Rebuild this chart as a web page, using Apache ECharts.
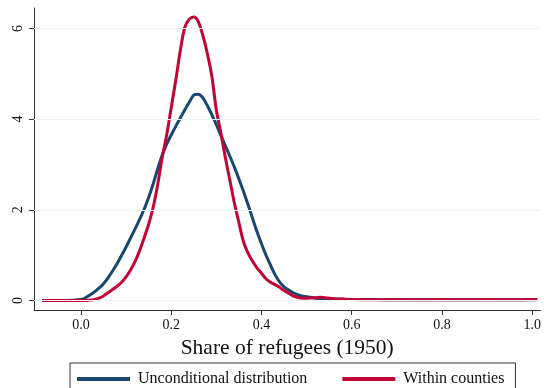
<!DOCTYPE html>
<html>
<head>
<meta charset="utf-8">
<script src="https://cdn.jsdelivr.net/npm/echarts@6/dist/echarts.min.js"></script>
<style>
html,body{margin:0;padding:0;background:#fff;}
#chart{width:544px;height:388px;}
</style>
</head>
<body>
<div id="chart"></div>
<script>
// Share of refugees (x) sample points
var shareValues = [-0.086, -0.06, -0.04, -0.02, 0.00, 0.01, 0.02, 0.03, 0.04, 0.05, 0.06, 0.07, 0.08, 0.09,
  0.10, 0.11, 0.12, 0.13, 0.14, 0.15, 0.16, 0.17, 0.18, 0.19, 0.20, 0.21, 0.22, 0.23, 0.24, 0.25, 0.26,
  0.27, 0.28, 0.29, 0.30, 0.31, 0.32, 0.33, 0.34, 0.35, 0.36, 0.37, 0.38, 0.39, 0.40, 0.41, 0.42, 0.43,
  0.44, 0.45, 0.46, 0.47, 0.48, 0.49, 0.50, 0.52, 0.53, 0.54, 0.56, 0.58, 0.60, 0.65, 0.70, 0.75, 0.80,
  0.85, 0.90, 0.95, 1.00, 1.011];
// Density: unconditional distribution
var unconditional = [0, 0, 0, 0.005, 0.02, 0.06, 0.12, 0.19, 0.27, 0.37, 0.5, 0.65, 0.81, 0.99,
  1.18, 1.38, 1.58, 1.79, 2.01, 2.27, 2.57, 2.9, 3.2, 3.45, 3.65, 3.84, 4.02, 4.2, 4.37, 4.53, 4.55,
  4.47, 4.3, 4.1, 3.88, 3.64, 3.41, 3.18, 2.94, 2.68, 2.41, 2.12, 1.82, 1.52, 1.25, 1.0, 0.78, 0.57,
  0.41, 0.3, 0.23, 0.17, 0.13, 0.1, 0.08, 0.05, 0.045, 0.04, 0.03, 0.025, 0.02, 0.02, 0.015, 0.015, 0.015,
  0.015, 0.015, 0.015, 0.015, 0.015];
// Density: within counties
var withinCounties = [0, 0, 0, 0, 0, 0, 0.01, 0.02, 0.05, 0.1, 0.17, 0.24, 0.31, 0.4,
  0.52, 0.67, 0.86, 1.1, 1.38, 1.68, 2.05, 2.55, 3.15, 3.65, 4.25, 4.85, 5.5, 6.02, 6.2, 6.25, 6.15,
  5.85, 5.45, 4.95, 4.2, 3.7, 3.15, 2.65, 2.15, 1.72, 1.3, 1.05, 0.87, 0.72, 0.6, 0.48, 0.4, 0.35,
  0.29, 0.22, 0.16, 0.1, 0.07, 0.05, 0.05, 0.06, 0.07, 0.06, 0.04, 0.03, 0.02, 0.015, 0.02, 0.015, 0.02,
  0.015, 0.02, 0.015, 0.02, 0.02];
var xTicks = [0, 0.2, 0.4, 0.6, 0.8, 1.0];
var yTicks = [0, 2, 4, 6];
var seriesNames = ['Unconditional distribution', 'Within counties'];
var xTitle = 'Share of refugees (1950)';

function pairs(ys) { return shareValues.map(function (x, i) { return [x, ys[i]]; }); }

var FONT = '"Liberation Serif", "DejaVu Serif", serif';
var chart = echarts.init(document.getElementById('chart'), null, {renderer: 'canvas'});
chart.setOption({
  backgroundColor: '#ffffff',
  animation: false,
  textStyle: {fontFamily: FONT},
  grid: {left: 34, right: 1, top: 8, bottom: 78, containLabel: false},
  legend: {
    data: seriesNames,
    left: 70, top: 363,
    width: 445,
    padding: [8, 11, 10, 7],
    itemGap: 35,
    itemWidth: 53, itemHeight: 4,
    icon: 'rect',
    borderColor: '#333', borderWidth: 1,
    textStyle: {fontFamily: FONT, fontSize: 16, color: '#111', padding: [0, 0, 0, 3]}
  },
  xAxis: {
    type: 'value', min: -0.104, max: 1.018,
    name: xTitle, nameLocation: 'middle', nameGap: 27,
    nameTextStyle: {fontFamily: FONT, fontSize: 21.5, color: '#111'},
    axisLine: {show: true, onZero: false, lineStyle: {color: '#333', width: 1}},
    axisTick: {show: true, length: 5, lineStyle: {color: '#333'}, customValues: xTicks},
    axisLabel: {fontFamily: FONT, fontSize: 14, color: '#111', margin: 8, customValues: xTicks,
      formatter: function (v) { return v.toFixed(1); }},
    splitLine: {show: false}
  },
  yAxis: {
    type: 'value', min: -0.21, max: 6.45,
    axisLine: {show: true, onZero: false, lineStyle: {color: '#333', width: 1}},
    axisTick: {show: true, length: 5, lineStyle: {color: '#333'}, customValues: yTicks},
    axisLabel: {fontFamily: FONT, fontSize: 14, color: '#111', margin: 9, rotate: 90, customValues: yTicks,
      formatter: function (v) { return String(Math.round(v)); }},
    splitLine: {show: false}
  },
  series: [
    {
      name: seriesNames[0], type: 'line', data: pairs(unconditional),
      showSymbol: false, smooth: 0.3, color: '#1a476f',
      lineStyle: {width: 3, color: '#1a476f'},
      markLine: {
        silent: true, symbol: 'none', label: {show: false},
        lineStyle: {color: '#eaf2f3', width: 1, type: 'solid'},
        data: yTicks.map(function (t) { return {yAxis: t}; })
      },
      z: 3
    },
    {
      name: seriesNames[1], type: 'line', data: pairs(withinCounties),
      showSymbol: false, smooth: 0.3, color: '#c10534',
      lineStyle: {width: 3, color: '#c10534'},
      z: 4
    }
  ]
});
</script>
</body>
</html>
